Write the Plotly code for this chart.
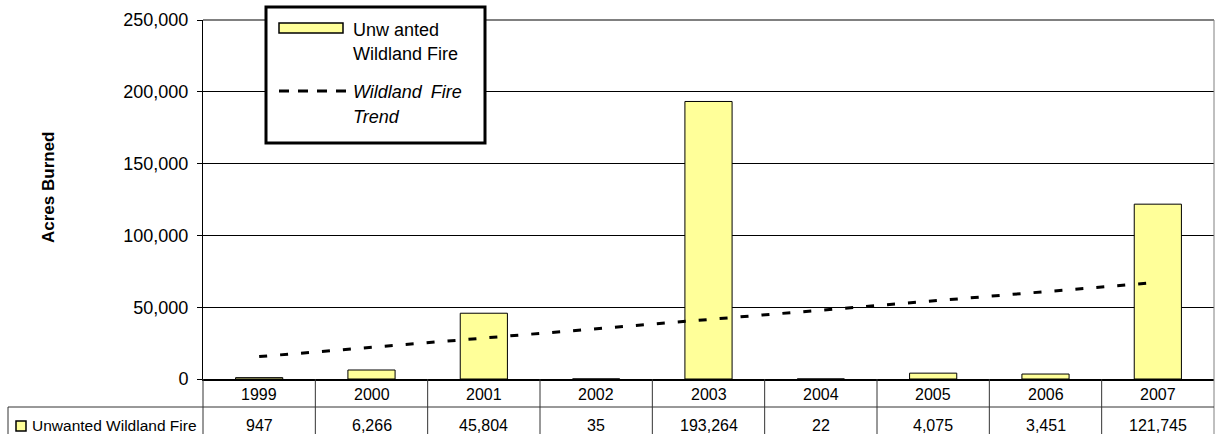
import plotly.graph_objects as go

years = ["1999", "2000", "2001", "2002", "2003", "2004", "2005", "2006", "2007"]
acres = [947, 6266, 45804, 35, 193264, 22, 4075, 3451, 121745]
trend_years = ["1999", "2007"]
trend_vals = [15600, 67300]
y_ticks = [0, 50000, 100000, 150000, 200000, 250000]
series_name = "Unwanted Wildland Fire"

W, H = 1215, 434
L, R, T, B = 203, 1214, 20, 379
FONT = "Liberation Sans, Arial, sans-serif"
YELLOW = "#FFFF99"


def px(x):
    return (x - L) / (R - L)


def py(y):
    return (B - y) / (B - T)


fig = go.Figure()
fig.add_trace(go.Bar(
    x=years, y=acres, width=0.42,
    marker=dict(color=YELLOW, line=dict(color="black", width=1)),
    showlegend=False, hoverinfo="x+y",
))
fig.add_trace(go.Scatter(
    x=trend_years, y=trend_vals, mode="lines",
    line=dict(color="black", width=3, dash="8px,13px"),
    showlegend=False, hoverinfo="skip",
))

shapes = []
annotations = []

# plot-area top/right border (gray)
shapes.append(dict(type="line", xref="paper", yref="paper", x0=0, x1=1, y0=1, y1=1,
                   line=dict(color="#808080", width=2), layer="above"))
shapes.append(dict(type="line", xref="paper", yref="paper", x0=1, x1=1, y0=1, y1=py(440),
                   line=dict(color="#808080", width=1), layer="above"))

# data table lines
n = len(years)
shapes.append(dict(type="line", xref="paper", yref="paper", x0=px(8), x1=1, y0=py(407), y1=py(407),
                   line=dict(color="#333333", width=1)))
shapes.append(dict(type="line", xref="paper", yref="paper", x0=px(8), x1=px(8), y0=py(407), y1=py(440),
                   line=dict(color="#333333", width=1)))
shapes.append(dict(type="line", xref="paper", yref="paper", x0=0, x1=0, y0=0, y1=py(440),
                   line=dict(color="#333333", width=1)))
for i in range(1, n):
    shapes.append(dict(type="line", xref="paper", yref="paper", x0=i / n, x1=i / n, y0=0, y1=py(440),
                       line=dict(color="#333333", width=1)))

# table text (column centres follow the category scale: range [-0.5, n-0.5])
for i, (yr, v) in enumerate(zip(years, acres)):
    cx = (i + 0.5) / n
    annotations.append(dict(x=cx, xref="paper", y=py(394), yref="paper", text=yr, showarrow=False,
                            font=dict(family=FONT, size=16, color="black"), xanchor="center", yanchor="middle"))
    annotations.append(dict(x=cx, xref="paper", y=py(425.5), yref="paper", text=f"{v:,}", showarrow=False,
                            font=dict(family=FONT, size=16, color="black"), xanchor="center", yanchor="middle"))
# table legend key
shapes.append(dict(type="rect", xref="paper", yref="paper", x0=px(16), x1=px(26), y0=py(421), y1=py(431),
                   fillcolor=YELLOW, line=dict(color="black", width=1.5)))
annotations.append(dict(x=px(30), xref="paper", y=py(425.5), yref="paper", text=series_name, showarrow=False,
                        font=dict(family=FONT, size=15.5, color="black"), xanchor="left", yanchor="middle"))

# y-axis title
annotations.append(dict(x=px(48), xref="paper", y=py(188), yref="paper", text="<b>Acres Burned</b>",
                        showarrow=False, textangle=-90,
                        font=dict(family=FONT, size=17, color="black"), xanchor="center", yanchor="middle"))

# custom legend box
shapes.append(dict(type="rect", xref="paper", yref="paper", x0=px(266), x1=px(485), y0=py(143), y1=py(7),
                   fillcolor="white", line=dict(color="black", width=3), layer="above"))
shapes.append(dict(type="rect", xref="paper", yref="paper", x0=px(279), x1=px(343), y0=py(33), y1=py(23),
                   fillcolor=YELLOW, line=dict(color="black", width=1.5), layer="above"))
shapes.append(dict(type="line", xref="paper", yref="paper", x0=px(279), x1=px(346), y0=py(91), y1=py(91),
                   line=dict(color="black", width=3, dash="10px,9px"), layer="above"))
for txt, yy, it in [("Unw anted", 30, False), ("Wildland Fire", 54, False),
                    ("Wildland\u2002Fire", 92, True), ("Trend", 117, True)]:
    annotations.append(dict(x=px(351), xref="paper", y=py(yy), yref="paper",
                            text=f"<i>{txt}</i>" if it else txt, showarrow=False,
                            font=dict(family=FONT, size=18, color="black"), xanchor="left", yanchor="middle"))

fig.update_layout(
    width=W, height=H,
    margin=dict(l=L, r=W - R, t=T, b=H - B, pad=0),
    paper_bgcolor="white", plot_bgcolor="white",
    bargap=0.58,
    shapes=shapes, annotations=annotations,
    showlegend=False,
    xaxis=dict(type="category", range=[-0.5, n - 0.5], showticklabels=False, ticks="",
               showgrid=False, showline=True, linecolor="black", linewidth=2, zeroline=False,
               fixedrange=True),
    yaxis=dict(range=[0, 250000], tickvals=y_ticks, tickformat=",d", ticks="outside", ticklen=5,
               tickcolor="black", tickwidth=1, showline=True, linecolor="black", linewidth=1,
               showgrid=True, gridcolor="black", gridwidth=1, zeroline=False,
               tickfont=dict(family=FONT, size=18, color="black"), ticklabelstandoff=5,
               fixedrange=True),
)

fig.write_html("out.html")
